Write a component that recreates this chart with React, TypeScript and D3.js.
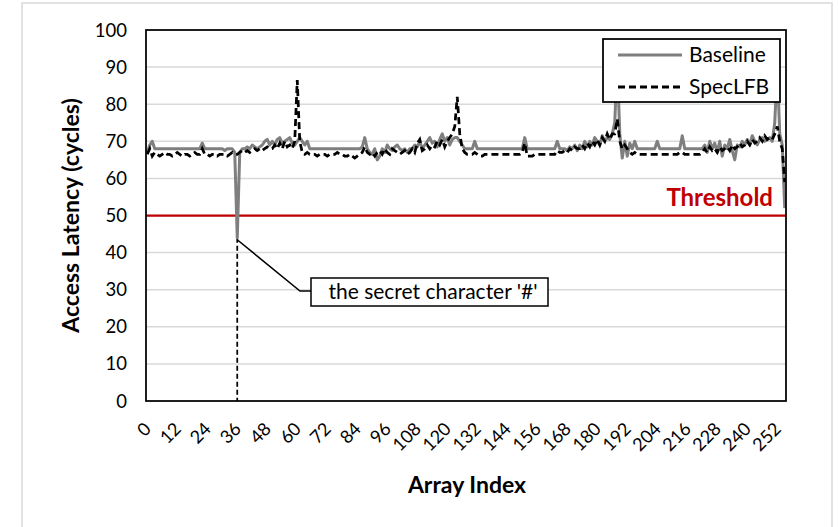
import React, { useEffect, useRef } from "react";
import * as d3 from "d3";

// access latency (cycles) per array index 0..255
const baseline = [
  67, 69, 70, 68, 68, 68, 68, 68, 68, 68, 68, 68, 68, 68, 68, 68,
  68, 68, 68, 68, 68, 68, 69.5, 68, 68, 68, 68, 68, 68, 68, 68, 67.5,
  68, 68, 68, 67, 44, 67, 68, 68, 68.5, 68, 69, 68.5, 68, 68.5, 69, 70,
  70.5, 69, 70, 69, 70.5, 71, 69.5, 70, 70.5, 71, 69.5, 69, 70, 71, 70, 69,
  70, 68, 68, 68, 68, 68, 68, 68, 68, 68, 68, 68, 68, 68, 68, 68,
  68, 68, 68, 68, 68, 68, 68.5, 71, 68, 67, 66.5, 68, 65, 66, 68, 67,
  69, 68, 67.5, 68.5, 69, 68, 67.5, 68, 67, 68, 68, 69, 68.5, 70, 68, 69,
  70, 71, 69.5, 70, 68.5, 70.5, 72, 70, 71, 69, 70.5, 71, 71, 70, 69, 68,
  68, 68, 68, 70, 68, 68, 68, 68, 68, 68, 68, 68, 68, 68, 68, 68,
  68, 68, 68, 68, 68, 68, 68, 71, 68, 68, 68, 68, 68, 68, 68, 68,
  68, 68, 68, 68, 70, 68, 68, 68, 67.5, 68.5, 68, 69, 67.5, 69, 68, 70,
  68.5, 70, 69, 71, 70, 69, 71.5, 70, 71, 70.5, 72, 75, 92, 72, 65.5, 70,
  66, 69.5, 68, 70, 68, 68, 68, 68, 68, 68, 68, 68, 70, 68, 68, 68,
  68, 68, 68, 68, 68, 68, 71.5, 68, 68, 68, 68, 68, 68, 68, 68, 69,
  67, 70, 68, 69.5, 67, 70, 66, 69, 68, 70.5, 67.5, 65, 69, 68.5, 70, 69,
  70.5, 69, 71.5, 70, 69, 70.5, 71, 70, 70.5, 71, 70, 75, 90, 72, 69, 52,
];

const specLFB = [
  66.5, 68, 66, 67, 66.5, 66, 66.5, 67, 66.5, 66.5, 66, 66.5, 67, 66.5, 66, 66.5,
  66.5, 66, 66.5, 67, 66.5, 66.5, 68, 66.5, 66.5, 66, 66.5, 66.5, 66, 66.5, 66.5, 66.5,
  66, 66.5, 67, 66.5, 66.5, 67, 67.5, 67, 67.5, 67, 67.5, 68, 67.5, 68, 67.5, 68,
  68.5, 68, 68, 69, 68, 69.5, 68, 70, 68.5, 69, 68, 70, 86.5, 70, 67, 66.5,
  67, 66.5, 66.5, 66.5, 66, 66.5, 66.5, 66.5, 66, 66.5, 66.5, 66.5, 67, 66.5, 66.5, 66,
  66, 66.5, 66, 65.5, 66, 66.5, 67, 68.5, 67, 66.5, 67, 66, 67, 67.5, 66.5, 68,
  67, 66.5, 68, 67.5, 67, 66.5, 67, 67.5, 66.5, 67, 68, 67, 69.5, 70.5, 67.5, 68,
  69, 68, 69, 68.5, 70, 69, 70.5, 68.5, 70, 71, 72, 74, 82, 72, 68, 67,
  66.5, 66.5, 66.5, 67, 66.5, 66, 66, 66.5, 66.5, 66.5, 66.5, 66.5, 66.5, 66.5, 66.5, 66.5,
  66.5, 66.5, 66.5, 66.5, 66.5, 66.5, 67, 69.5, 66, 66, 66, 66.5, 66.5, 66.5, 66.5, 66.5,
  66.5, 66.5, 66.5, 66.5, 67.5, 67, 67, 67.5, 67, 68, 67.5, 68.5, 68, 68, 69, 68,
  69.5, 68.5, 70, 69, 70.5, 69, 71, 70, 72, 70.5, 72, 72, 76, 70, 68, 69,
  68, 67, 66.5, 67, 66.5, 66.5, 66.5, 66.5, 66.5, 66.5, 66.5, 66.5, 66.5, 66.5, 66.5, 66.5,
  66.5, 66.5, 66.5, 66.5, 66.5, 67, 67, 66.5, 66.5, 66.5, 66.5, 66.5, 66.5, 66.5, 67, 68,
  67, 68.5, 67.5, 68, 67, 68.5, 67.5, 68, 68.5, 67.5, 69, 68, 68.5, 69.5, 68.5, 69,
  70, 69, 70.5, 69.5, 70, 71, 70, 71.5, 70.5, 71, 70.5, 72, 74, 70, 68, 59,
];

const yTicks = [0, 10, 20, 30, 40, 50, 60, 70, 80, 90, 100];
const xTickStep = 12;
const threshold = 50;
const secretIndex = 36;
const seriesNames = ["Baseline", "SpecLFB"];

const FONT = "Lato, 'Open Sans', sans-serif";

function App() {
  const ref = useRef<SVGSVGElement>(null);

  useEffect(() => {
    const W = 838;
    const H = 527;
    const left = 146, right = 786, top = 30, bottom = 401;
    const svg = d3.select(ref.current).attr("width", W).attr("height", H);
    svg.selectAll("*").remove();

    const idx = d3.range(baseline.length);
    const x = d3.scalePoint<number>().domain(idx).range([left, right]).padding(0.5);
    const y = d3.scaleLinear().domain([0, 100]).range([bottom, top]);

    // outer chart frame
    svg.append("rect").attr("x", 22).attr("y", 3).attr("width", 810).attr("height", 540)
      .attr("fill", "#fff").attr("stroke", "#d9d9d9").attr("stroke-width", 1.5);

    // gridlines
    svg.append("g").selectAll("line").data(yTicks.slice(1, -1)).join("line")
      .attr("x1", left).attr("x2", right)
      .attr("y1", d => y(d)).attr("y2", d => y(d))
      .attr("stroke", "#d9d9d9").attr("stroke-width", 1.5);

    // y tick labels
    svg.append("g").selectAll("text").data(yTicks).join("text")
      .attr("x", 127).attr("y", d => y(d) + 6.5)
      .attr("text-anchor", "end")
      .attr("font-family", FONT).attr("font-size", 18.5).attr("fill", "#000")
      .text(d => d);

    // x tick labels
    const xTicks = idx.filter(i => i % xTickStep === 0);
    svg.append("g").selectAll("text").data(xTicks).join("text")
      .attr("transform", d => `translate(${(x(d) as number) + 5},${430}) rotate(-45)`)
      .attr("text-anchor", "end")
      .attr("font-family", FONT).attr("font-size", 18).attr("fill", "#000")
      .text(d => d);

    // axis titles
    svg.append("text")
      .attr("transform", `translate(79,${(top + bottom) / 2}) rotate(-90)`)
      .attr("text-anchor", "middle")
      .attr("font-family", FONT).attr("font-size", 23).attr("font-weight", "bold")
      .text("Access Latency (cycles)");
    svg.append("text")
      .attr("x", 467).attr("y", 493)
      .attr("text-anchor", "middle")
      .attr("font-family", FONT).attr("font-size", 23).attr("font-weight", "bold")
      .text("Array Index");

    // threshold
    svg.append("line")
      .attr("x1", left).attr("x2", right)
      .attr("y1", y(threshold)).attr("y2", y(threshold))
      .attr("stroke", "#c00000").attr("stroke-width", 2.25);
    svg.append("text")
      .attr("x", 773).attr("y", y(threshold) - 10)
      .attr("text-anchor", "end")
      .attr("font-family", FONT).attr("font-size", 24).attr("font-weight", "bold")
      .attr("fill", "#c00000")
      .text("Threshold");

    // annotation: dashed drop line + callout
    const sx = x(secretIndex) as number;
    const sy = y(baseline[secretIndex]);
    svg.append("line")
      .attr("x1", sx).attr("x2", sx).attr("y1", sy).attr("y2", y(0))
      .attr("stroke", "#000").attr("stroke-width", 1.75).attr("stroke-dasharray", "5,3");

    const line = d3.line<number>().x((d, i) => x(i) as number).y(d => y(d));

    svg.append("path").datum(baseline)
      .attr("d", line).attr("fill", "none")
      .attr("stroke", "#7f7f7f").attr("stroke-width", 3).attr("stroke-linejoin", "round");
    svg.append("path").datum(specLFB)
      .attr("d", line).attr("fill", "none")
      .attr("stroke", "#000").attr("stroke-width", 2.75).attr("stroke-dasharray", "7,4");

    svg.append("polyline")
      .attr("points", `${sx},${sy + 2} 300,291 311,291`)
      .attr("fill", "none").attr("stroke", "#000").attr("stroke-width", 1.5);
    svg.append("rect").attr("x", 311).attr("y", 278).attr("width", 237).attr("height", 28)
      .attr("fill", "#fff").attr("stroke", "#000").attr("stroke-width", 1.5);
    svg.append("text")
      .attr("x", 433).attr("y", 299)
      .attr("text-anchor", "middle")
      .attr("font-family", FONT).attr("font-size", 21)
      .text("the secret character '#'");

    // plot frame
    svg.append("rect").attr("x", left).attr("y", top)
      .attr("width", right - left).attr("height", bottom - top)
      .attr("fill", "none").attr("stroke", "#000").attr("stroke-width", 1.75);

    // legend
    const lg = svg.append("g");
    lg.append("rect").attr("x", 603).attr("y", 39).attr("width", 177).attr("height", 63)
      .attr("fill", "#fff").attr("stroke", "#000").attr("stroke-width", 1.75);
    seriesNames.forEach((name, i) => {
      const ly = 55 + i * 32;
      lg.append("line").attr("x1", 618).attr("x2", 682).attr("y1", ly).attr("y2", ly)
        .attr("stroke", i === 0 ? "#7f7f7f" : "#000").attr("stroke-width", 3)
        .attr("stroke-dasharray", i === 0 ? null : "7,4");
      lg.append("text").attr("x", 689).attr("y", ly + 7)
        .attr("font-family", FONT).attr("font-size", 21)
        .text(name);
    });
  }, []);

  return <svg ref={ref} style={{ position: "absolute", left: 0, top: 0 }} />;
}

export default App;
